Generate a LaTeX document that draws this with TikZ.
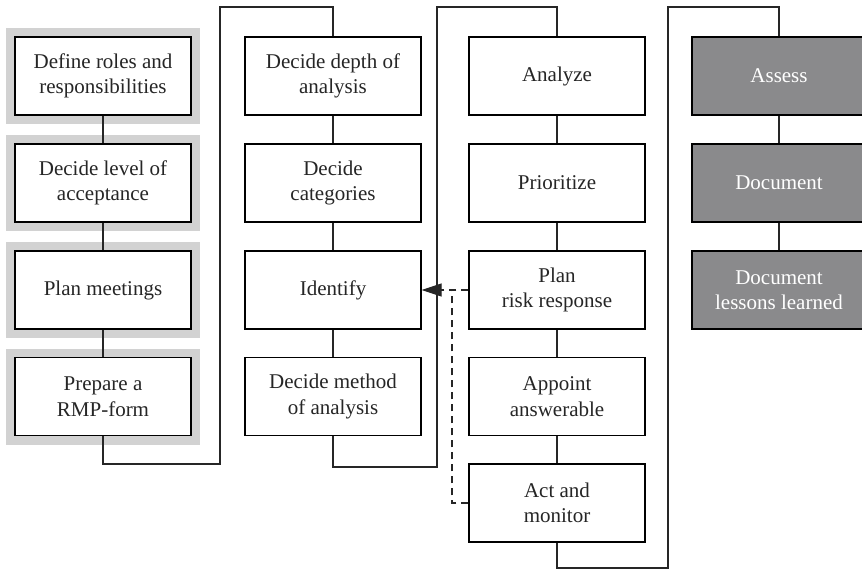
\documentclass[tikz,border=0pt]{standalone}
\usepackage{fontspec}
\setmainfont{Liberation Serif}
\usetikzlibrary{arrows.meta}
\definecolor{bandgrey}{HTML}{D2D2D2}
\definecolor{darkbox}{HTML}{8A8A8C}
\begin{document}
\begin{tikzpicture}[x=1pt,y=-1pt,
  box/.style={draw=black, line width=1.2pt, fill=white, minimum width=176pt, minimum height=78pt,
    align=center, inner sep=2pt, font=\fontsize{21}{25.5}\selectfont, text=black!85},
  bandbox/.style={box, preaction={draw=bandgrey, line width=18pt}},
  darkbx/.style={box, fill=darkbox, text=white, minimum width=174pt},
  link/.style={draw=black!85, line width=1.2pt},
  dlink/.style={draw=black!85, line width=1.2pt, dash pattern=on 7pt off 5pt}]
\useasboundingbox (0,0) rectangle (862,573);
% column 1
\node[bandbox] (a1) at (103,76) {Define roles and\\responsibilities};
\node[bandbox] (a2) at (103,183) {Decide level of\\acceptance};
\node[bandbox] (a3) at (103,290) {Plan meetings};
\node[bandbox] (a4) at (103,396.5) {Prepare a\\RMP-form};
% column 2
\node[box] (b1) at (333,76) {Decide depth of\\analysis};
\node[box] (b2) at (333,183) {Decide\\categories};
\node[box] (b3) at (333,290) {Identify};
\node[box] (b4) at (333,396.5) {Decide method\\of analysis};
% column 3
\node[box] (c1) at (557,76) {Analyze};
\node[box] (c2) at (557,183) {Prioritize};
\node[box] (c3) at (557,290) {Plan\\risk response};
\node[box] (c4) at (557,396.5) {Appoint\\answerable};
\node[box] (c5) at (557,503) {Act and\\monitor};
% column 4
\node[darkbx] (d1) at (779,76) {Assess};
\node[darkbx] (d2) at (779,183) {Document};
\node[darkbx] (d3) at (779,290) {Document\\lessons learned};
% vertical links
\foreach \p/\q in {a1/a2,a2/a3,a3/a4,b1/b2,b2/b3,b3/b4,c1/c2,c2/c3,c3/c4,c4/c5,d1/d2,d2/d3}
  \draw[link] (\p.south) -- (\q.north);
% column transitions
\coordinate (k1) at (220,464);
\coordinate (k2) at (333,7);
\coordinate (m1) at (437,467);
\coordinate (m2) at (557,7);
\coordinate (n1) at (668,568);
\coordinate (n2) at (779,7);
\draw[link] (a4.south) |- (k1) |- (k2) -- (b1.north);
\draw[link] (b4.south) |- (m1) |- (m2) -- (c1.north);
\draw[link] (c5.south) |- (n1) |- (n2) -- (d1.north);
% feedback
\coordinate (f1) at (452,290);
\draw[dlink, -{Triangle[length=20pt,width=13pt]}] (c3.west) -- (b3.east);
\draw[dlink] (c5.west) -| (f1);
\end{tikzpicture}
\end{document}
